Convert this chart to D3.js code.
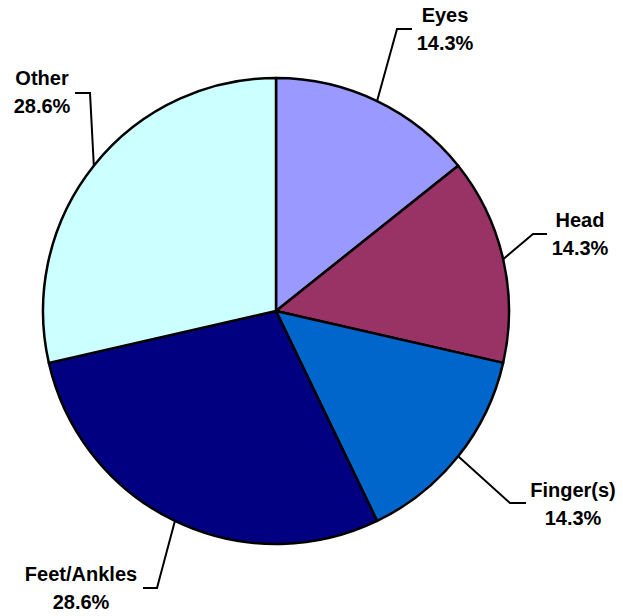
<!DOCTYPE html>
<html>
<head>
<meta charset="utf-8">
<script src="https://cdn.jsdelivr.net/npm/d3@7"></script>
<style>
  html, body { margin: 0; padding: 0; background: #fff; }
  #chart { width: 623px; height: 616px; }
  text { font-family: "Liberation Sans", Arial, sans-serif; font-weight: bold; font-size: 20px; fill: #000; }
</style>
</head>
<body>
<div id="chart"></div>
<script>
// datos del gráfico (en sentido horario desde arriba)
const categories = ["Eyes", "Head", "Finger(s)", "Feet/Ankles", "Other"];
const values = [14.3, 14.3, 14.3, 28.6, 28.6];
const colors = ["#9999FF", "#993366", "#0066CC", "#000080", "#CCFFFF"];

// posición de las etiquetas: codo de la línea guía, extremo y centro del texto
const labelLayout = [
  { elbow: [397, 29], end: [412, 29], tx: 445, ty: 22 },
  { elbow: [533, 234], end: [547, 234], tx: 580, ty: 227 },
  { elbow: [510, 503], end: [526, 503], tx: 573, ty: 497 },
  { elbow: [157, 588], end: [143, 588], tx: 81, ty: 581 },
  { elbow: [90, 93], end: [75, 93], tx: 42, ty: 85 }
];

const width = 623, height = 616;
const cx = 276, cy = 311, radius = 233;

const svg = d3.select("#chart")
  .append("svg")
  .attr("width", width)
  .attr("height", height);

const data = categories.map((c, i) => ({ name: c, value: values[i], color: colors[i], layout: labelLayout[i] }));

const pie = d3.pie().sort(null).value(d => d.value);
const arc = d3.arc().innerRadius(0).outerRadius(radius);
const arcs = pie(data);

const g = svg.append("g").attr("transform", `translate(${cx},${cy})`);

g.selectAll("path")
  .data(arcs)
  .join("path")
  .attr("d", arc)
  .attr("fill", d => d.data.color)
  .attr("stroke", "#000")
  .attr("stroke-width", 2.5)
  .attr("stroke-linejoin", "round");

// líneas guía desde el borde del sector hasta la etiqueta
svg.append("g")
  .selectAll("polyline")
  .data(arcs)
  .join("polyline")
  .attr("fill", "none")
  .attr("stroke", "#000")
  .attr("stroke-width", 2)
  .attr("points", d => {
    const a = (d.startAngle + d.endAngle) / 2;
    const x0 = cx + Math.sin(a) * radius;
    const y0 = cy - Math.cos(a) * radius;
    const l = d.data.layout;
    return [[x0, y0], l.elbow, l.end].map(p => p.join(",")).join(" ");
  });

const labels = svg.append("g")
  .selectAll("text")
  .data(arcs)
  .join("text")
  .attr("text-anchor", "middle")
  .attr("x", d => d.data.layout.tx)
  .attr("y", d => d.data.layout.ty);

labels.append("tspan")
  .attr("x", d => d.data.layout.tx)
  .text(d => d.data.name);

labels.append("tspan")
  .attr("x", d => d.data.layout.tx)
  .attr("dy", 28)
  .text(d => d.data.value.toFixed(1) + "%");
</script>
</body>
</html>
